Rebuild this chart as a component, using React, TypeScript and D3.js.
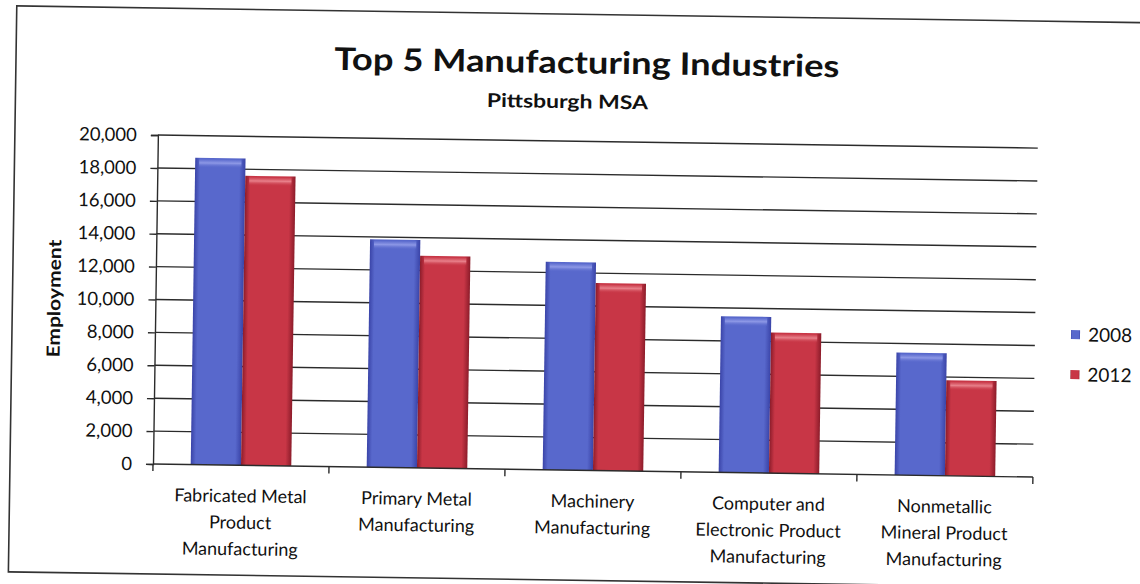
import { useRef, useEffect } from 'react';
import * as d3 from 'd3';

// values (employment)
const categories = [
  'Fabricated Metal Product Manufacturing',
  'Primary Metal Manufacturing',
  'Machinery Manufacturing',
  'Computer and Electronic Product Manufacturing',
  'Nonmetallic Mineral Product Manufacturing',
];
const categoryLines = [
  ['Fabricated Metal', 'Product', 'Manufacturing'],
  ['Primary Metal', 'Manufacturing'],
  ['Machinery', 'Manufacturing'],
  ['Computer and', 'Electronic Product', 'Manufacturing'],
  ['Nonmetallic', 'Mineral Product', 'Manufacturing'],
];
const years = ['2008', '2012'];
const values2008 = [18650, 13850, 12650, 9500, 7450];
const values2012 = [17600, 12900, 11400, 8550, 5800];
const yMax = 20000;

const W = 1140;
const H = 584;
const FONT = 'Lato, "Open Sans", sans-serif';

const palette: Record<string, { dark: string; mid: string; light: string }> = {
  '2008': { dark: '#3a44a8', mid: '#5868cc', light: '#8d98e6' },
  '2012': { dark: '#8c1c2a', mid: '#c83646', light: '#e8808a' },
};

export default function App() {
  const svgRef = useRef<SVGSVGElement>(null);

  useEffect(() => {
    if (!svgRef.current) return;
    const svg = d3.select(svgRef.current);
    svg.selectAll('*').remove();

    const left = 153;
    const right = 1033;
    const top = 135;
    const bottom = 464;

    const defs = svg.append('defs');
    years.forEach((yr) => {
      const c = palette[yr];
      const g = defs.append('linearGradient').attr('id', `bar-${yr}`).attr('x1', '0').attr('x2', '1');
      g.append('stop').attr('offset', '0%').attr('stop-color', c.dark);
      g.append('stop').attr('offset', '10%').attr('stop-color', c.mid);
      g.append('stop').attr('offset', '88%').attr('stop-color', c.mid);
      g.append('stop').attr('offset', '100%').attr('stop-color', c.dark);
      const t = defs.append('linearGradient').attr('id', `top-${yr}`).attr('x1', '0').attr('x2', '0').attr('y1', '0').attr('y2', '1');
      t.append('stop').attr('offset', '0%').attr('stop-color', c.mid);
      t.append('stop').attr('offset', '45%').attr('stop-color', c.light);
      t.append('stop').attr('offset', '100%').attr('stop-color', c.mid).attr('stop-opacity', 0);
    });

    svg.append('rect').attr('width', W).attr('height', H).attr('fill', '#fff');

    // the scan is tilted a little clockwise
    const root = svg.append('g').attr('transform', `rotate(0.85, ${left}, ${bottom})`);

    // frame
    root.append('rect')
      .attr('x', 10).attr('y', 8).attr('width', 1160).attr('height', 566)
      .attr('fill', 'none').attr('stroke', '#333').attr('stroke-width', 1.6);

    const x0 = d3.scaleBand<string>().domain(categories).range([left, right]).paddingInner(0).paddingOuter(0);
    const x1 = d3.scaleBand<string>().domain(years).range([0, x0.bandwidth()]).paddingInner(0).paddingOuter(0.75);
    const y = d3.scaleLinear().domain([0, yMax]).range([bottom, top]);
    const ticks = y.ticks(10);

    // gridlines
    root.append('g')
      .selectAll('line')
      .data(ticks.filter((t) => t > 0))
      .join('line')
      .attr('x1', left).attr('x2', right)
      .attr('y1', (d) => y(d)).attr('y2', (d) => y(d))
      .attr('stroke', '#2b2b2b').attr('stroke-width', 1.4);

    // y axis
    const yAxis = root.append('g')
      .attr('transform', `translate(${left},0)`)
      .call(d3.axisLeft(y).tickValues(ticks).tickSize(7).tickPadding(14).tickFormat(d3.format(',')));
    yAxis.selectAll('.domain').attr('stroke', '#2b2b2b').attr('stroke-width', 1.4);
    yAxis.selectAll('.tick line').attr('stroke', '#2b2b2b').attr('stroke-width', 1.4);
    yAxis.selectAll('text')
      .attr('fill', '#111')
      .style('font-family', FONT)
      .style('font-size', '18.5px');

    // bars
    const series = [values2008, values2012];
    years.forEach((yr, si) => {
      const g = root.append('g');
      const data = categories.map((c, i) => ({ c, v: series[si][i] }));
      g.selectAll('rect.bar')
        .data(data)
        .join('rect')
        .attr('class', 'bar')
        .attr('x', (d) => (x0(d.c) || 0) + (x1(yr) || 0))
        .attr('y', (d) => y(d.v))
        .attr('width', x1.bandwidth())
        .attr('height', (d) => y(0) - y(d.v))
        .attr('fill', `url(#bar-${yr})`);
      g.selectAll('rect.bevel')
        .data(data)
        .join('rect')
        .attr('class', 'bevel')
        .attr('x', (d) => (x0(d.c) || 0) + (x1(yr) || 0) + 4)
        .attr('y', (d) => y(d.v) + 1)
        .attr('width', x1.bandwidth() - 8)
        .attr('height', 9)
        .attr('fill', `url(#top-${yr})`);
    });

    // x axis with ticks at band boundaries
    root.append('line')
      .attr('x1', left).attr('x2', right)
      .attr('y1', bottom).attr('y2', bottom)
      .attr('stroke', '#2b2b2b').attr('stroke-width', 1.4);
    const bounds = [...categories.map((c) => x0(c) || 0), right];
    root.append('g')
      .selectAll('line')
      .data(bounds)
      .join('line')
      .attr('x1', (d) => d).attr('x2', (d) => d)
      .attr('y1', bottom).attr('y2', bottom + 7)
      .attr('stroke', '#2b2b2b').attr('stroke-width', 1.4);

    // category labels
    const labels = root.append('g')
      .style('font-family', FONT)
      .style('font-size', '18px')
      .attr('fill', '#111')
      .attr('text-anchor', 'middle');
    categories.forEach((c, i) => {
      const cx = (x0(c) || 0) + x0.bandwidth() / 2;
      const t = labels.append('text');
      categoryLines[i].forEach((line, li) => {
        t.append('tspan').attr('x', cx).attr('y', 501 + li * 26.5).text(line);
      });
    });

    // axis title
    root.append('text')
      .attr('transform', `translate(58,300) rotate(-90)`)
      .attr('text-anchor', 'middle')
      .style('font-family', FONT)
      .style('font-weight', 700)
      .style('font-size', '18px')
      .attr('textLength', 118)
      .attr('lengthAdjust', 'spacingAndGlyphs')
      .attr('fill', '#111')
      .text('Employment');

    // titles
    root.append('text')
      .attr('x', 581).attr('y', 67)
      .attr('text-anchor', 'middle')
      .style('font-family', FONT)
      .style('font-weight', 700)
      .style('font-size', '31px')
      .attr('textLength', 505)
      .attr('lengthAdjust', 'spacingAndGlyphs')
      .attr('fill', '#111')
      .text('Top 5 Manufacturing Industries');
    root.append('text')
      .attr('x', 562).attr('y', 102)
      .attr('text-anchor', 'middle')
      .style('font-family', FONT)
      .style('font-weight', 700)
      .style('font-size', '19px')
      .attr('textLength', 161)
      .attr('lengthAdjust', 'spacingAndGlyphs')
      .attr('fill', '#111')
      .text('Pittsburgh MSA');

    // legend
    const legend = root.append('g').attr('transform', 'translate(1069,0)');
    years.forEach((yr, i) => {
      const cy = 321 + i * 40;
      legend.append('rect')
        .attr('x', 0).attr('y', cy - 4.5).attr('width', 9).attr('height', 9)
        .attr('fill', `url(#bar-${yr})`);
      legend.append('text')
        .attr('x', 17).attr('y', cy)
        .attr('dy', '0.35em')
        .style('font-family', FONT)
        .style('font-size', '19px')
        .attr('fill', '#111')
        .text(yr);
    });
  }, []);

  return (
    <svg
      ref={svgRef}
      width={W}
      height={H}
      style={{ position: 'absolute', left: 0, top: 0, display: 'block' }}
    />
  );
}
